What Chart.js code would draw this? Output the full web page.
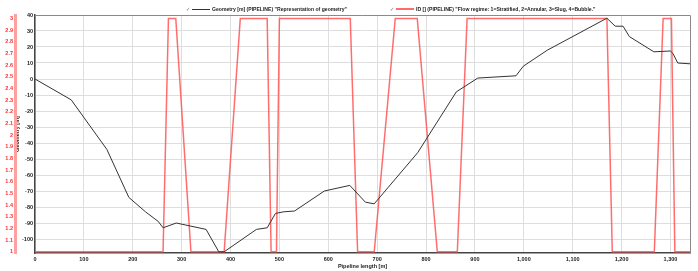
<!DOCTYPE html>
<html>
<head>
<meta charset="utf-8">
<script src="https://cdn.jsdelivr.net/npm/chart.js@4.4.1/dist/chart.umd.min.js"></script>
<style>
  html, body { margin: 0; padding: 0; background: #fff; }
  #wrap { position: relative; width: 698px; height: 271px; }
  #legend { position: absolute; left: 0; top: 0; width: 698px; height: 14px;
            font: bold 5.1px "Liberation Sans", Arial, sans-serif; color: #222; }
  .item { position: absolute; top: 5px; height: 8px; display: flex; align-items: center; white-space: nowrap; }
  .chk { font-size: 5px; color: #888; width: 5px; margin-right: 1px; }
  .swatch { display: inline-block; width: 18px; height: 0; margin-right: 2px; }
</style>
</head>
<body>
<div id="wrap">
  <canvas id="chart" width="698" height="271"></canvas>
  <div id="legend">
    <div class="item" style="left:186px"><span class="chk">✓</span><span class="swatch" style="border-top:1px solid #333"></span><span id="lab1"></span></div>
    <div class="item" style="left:390px"><span class="chk">✓</span><span class="swatch" style="border-top:2px solid #ff6a6a"></span><span id="lab2"></span></div>
  </div>
</div>
<script>
// geometry profile (pipeline length [m] -> elevation [m])
const geoX = [0, 74, 147, 192, 226, 252, 262, 289, 350, 376, 387, 453, 475, 492, 509, 531, 592, 644, 676, 694,
              783, 862, 906, 984, 999, 1048, 1170, 1187, 1203, 1216, 1266, 1300, 1305, 1315, 1340];
const geoY = [0, -13, -44, -74, -83, -89, -93, -90, -94, -108, -108, -94, -93, -84, -83, -82.5, -70, -66.5, -77, -78,
              -46, -8, 0.6, 2, 8, 18, 38, 33, 33, 26.5, 17, 17.5, 16, 10, 9.5];

// flow regime id along the pipeline
const regimeX = [0, 262, 273, 288, 319, 387, 420, 475, 483, 494, 500, 645, 660, 694, 737, 782,
                 823, 864, 884, 1170, 1181, 1267, 1285, 1302, 1309, 1340];
const regimeY = [1, 1, 3, 3, 1, 1, 3, 3, 1, 1, 3, 3, 1, 1, 3, 3,
                 1, 1, 3, 3, 1, 1, 3, 3, 1, 1];

const geoLabel = 'Geometry [m] (PIPELINE) "Representation of geometry"';
const regimeLabel = 'ID [] (PIPELINE) "Flow regime: 1=Stratified, 2=Annular, 3=Slug, 4=Bubble."';

document.getElementById("lab1").textContent = geoLabel;
document.getElementById("lab2").textContent = regimeLabel;

Chart.defaults.font.family = '"Liberation Sans", Arial, sans-serif';
Chart.defaults.font.size = 5.5;
Chart.defaults.font.weight = "bold";
Chart.defaults.color = "#222";

const gridDash = { color: "#dedede", borderDash: [2, 2], drawTicks: false };

// top and right edges of the plot frame
const frame = {
  id: "frame",
  beforeDatasetsDraw(chart) {
    const { ctx, chartArea: a } = chart;
    ctx.save();
    ctx.strokeStyle = "#8a8a8a";
    ctx.lineWidth = 1;
    ctx.beginPath();
    ctx.moveTo(a.left, a.top + 0.5);
    ctx.lineTo(a.right + 0.5, a.top + 0.5);
    ctx.lineTo(a.right + 0.5, a.bottom);
    ctx.stroke();
    ctx.restore();
  },
};

const ctx = document.getElementById("chart").getContext("2d");
new Chart(ctx, {
  type: "line",
  data: {
    datasets: [
      {
        label: geoLabel,
        data: geoX.map((x, i) => ({ x: x, y: geoY[i] })),
        borderColor: "#333",
        borderWidth: 1,
        pointRadius: 0,
        yAxisID: "y",
      },
      {
        label: regimeLabel,
        data: regimeX.map((x, i) => ({ x: x, y: regimeY[i] })),
        borderColor: "rgba(255, 85, 85, 0.85)",
        borderWidth: 1.5,
        pointRadius: 0,
        yAxisID: "y2",
      },
    ],
  },
  options: {
    responsive: false,
    animation: false,
    locale: "en-US",
    layout: { padding: { top: 15, right: 8, left: 0, bottom: 0 } },
    plugins: { legend: { display: false }, tooltip: { enabled: false } },
    scales: {
      x: {
        type: "linear",
        min: 0,
        max: 1340,
        ticks: { stepSize: 100, includeBounds: false, padding: 3, maxRotation: 0 },
        grid: gridDash,
        border: { color: "#444", width: 1.5 },
        title: { display: true, text: "Pipeline length [m]", padding: { top: 0, bottom: 1 } },
        afterFit: (s) => { s.height = 18; },
      },
      y: {
        position: "left",
        weight: 0,
        min: -108.75,
        max: 40,
        ticks: { stepSize: 10, includeBounds: false, padding: 2 },
        grid: gridDash,
        border: { color: "#444", width: 1.5 },
        title: { display: true, text: "Geometry [m]", padding: { top: -1, bottom: 0 } },
        afterFit: (s) => { s.width = 20; },
      },
      y2: {
        position: "left",
        weight: 1,
        min: 0.99,
        max: 3.03,
        ticks: {
          stepSize: 0.1,
          includeBounds: false,
          padding: 2,
          color: "#ff3030",
          callback: (v) => String(Math.round(v * 10) / 10),
        },
        grid: { display: false, drawTicks: false },
        border: { color: "#ffa0a0", width: 3 },
        afterFit: (s) => { s.width = 15; },
      },
    },
  },
  plugins: [frame],
});
</script>
</body>
</html>
